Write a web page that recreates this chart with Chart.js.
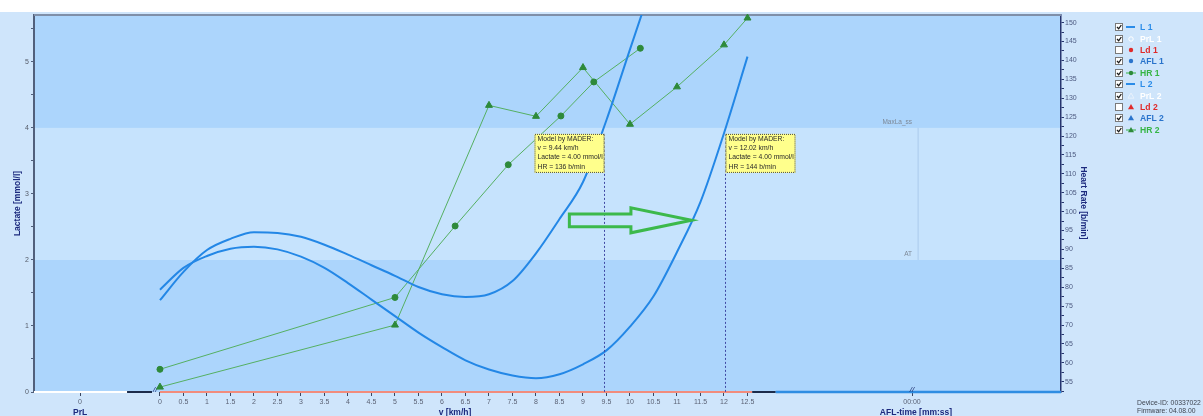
<!DOCTYPE html>
<html>
<head>
<meta charset="utf-8">
<title>Lactate test</title>
<script src="https://cdn.jsdelivr.net/npm/chart.js@4.4.1/dist/chart.umd.min.js"></script>
<style>
  html, body { margin: 0; padding: 0; background: #ffffff; overflow: hidden; }
  canvas { display: block; }
</style>
</head>
<body>
<canvas id="lactateChart" width="1203" height="416"></canvas>
<script>
var curveSpeed = [0, 0.5, 1, 1.5, 2, 2.5, 3, 3.5, 4, 4.5, 5, 5.5, 6, 6.5, 7, 7.5, 8, 8.5, 9, 9.5, 10, 10.5, 11, 11.5, 12, 12.5];
var lactate1 = [1.39, 1.82, 2.15, 2.32, 2.42, 2.41, 2.35, 2.23, 2.08, 1.92, 1.76, 1.59, 1.48, 1.44, 1.48, 1.68, 2.10, 2.62, 3.18, 4.12, 5.19, 6.25];
var lactate2 = [1.55, 1.88, 2.06, 2.17, 2.20, 2.16, 2.05, 1.88, 1.65, 1.40, 1.15, 0.90, 0.68, 0.48, 0.34, 0.25, 0.21, 0.27, 0.42, 0.63, 0.99, 1.45, 2.12, 2.88, 3.92, 5.08];

// heart rate steps
var hr1Speed = [0, 5, 6.28, 7.41, 8.53, 9.23, 10.22];
var hr1 = [58.3, 77.3, 96.2, 112.4, 125.3, 134.3, 143.2];
var hr2Speed = [0, 5, 7, 8, 9, 10, 11, 12, 12.5];
var hr2 = [53.6, 70.0, 128.1, 125.2, 138.1, 123.1, 133.0, 144.1, 151.2];

// MADER model results (4 mmol/l threshold)
var modelSpeed = [9.44, 12.02];
var modelLactate = [4.00, 4.00];
var modelHR = [136, 144];

// ticks
var speedTicks = [0, 0.5, 1, 1.5, 2, 2.5, 3, 3.5, 4, 4.5, 5, 5.5, 6, 6.5, 7, 7.5, 8, 8.5, 9, 9.5, 10, 10.5, 11, 11.5, 12, 12.5];
var lactateTicks = [0, 1, 2, 3, 4, 5];
var hrTicks = [55, 60, 65, 70, 75, 80, 85, 90, 95, 100, 105, 110, 115, 120, 125, 130, 135, 140, 145, 150];
var prlTick = -1.7;   // "0" under the PrL part
var aflTick = 16;     // "00:00" under the AFL-time part

var legendItems = [
  { label: 'L 1',   color: '#2b8ce8', mark: 'line',         checked: true },
  { label: 'PrL 1', color: '#ffffff', mark: 'ocircle',      checked: true },
  { label: 'Ld 1',  color: '#e02a2a', mark: 'circle',       checked: false },
  { label: 'AFL 1', color: '#2a74cc', mark: 'circle',       checked: true },
  { label: 'HR 1',  color: '#35b544', mark: 'lineCircle',   checked: true },
  { label: 'L 2',   color: '#2b8ce8', mark: 'line',         checked: true },
  { label: 'PrL 2', color: '#ffffff', mark: 'otriangle',    checked: true },
  { label: 'Ld 2',  color: '#e02a2a', mark: 'triangle',     checked: false },
  { label: 'AFL 2', color: '#2a74cc', mark: 'triangle',     checked: true },
  { label: 'HR 2',  color: '#35b544', mark: 'lineTriangle', checked: true }
];

var FONT = "Arial, 'Liberation Sans', sans-serif";
var NAVY = '#1c2a7e';

function pairs(xs, ys) {
  var out = [];
  for (var i = 0; i < ys.length; i++) out.push({ x: xs[i], y: ys[i] });
  return out;
}

// major ticks plus one minor tick half way between them
function withMinor(major, lo, hi) {
  var step = (major[1] - major[0]) / 2;
  var out = [];
  for (var i = 0; i < major.length; i++) {
    out.push(major[i] - step);
    out.push(major[i]);
  }
  out.push(major[major.length - 1] + step);
  return out.filter(function (v) { return v >= lo && v <= hi; }).map(function (v) { return { value: v }; });
}

var backdrop = {
  id: 'backdrop',
  beforeDraw: function (chart) {
    var c = chart.ctx, a = chart.chartArea, y = chart.scales.y;
    c.save();
    c.fillStyle = '#ffffff';
    c.fillRect(0, 0, chart.width, chart.height);
    c.fillStyle = '#cfe5fb';
    c.fillRect(0, 12, chart.width, chart.height - 12);
    // lactate bands
    var edges = [0, 2, 4, y.max];
    var cols = ['#acd5fc', '#c6e3fd', '#acd5fc'];
    for (var i = 0; i < 3; i++) {
      var t = y.getPixelForValue(edges[i + 1]), b = y.getPixelForValue(edges[i]);
      c.fillStyle = cols[i];
      c.fillRect(a.left, t, a.right - a.left, b - t);
    }
    c.restore();
  },
  beforeDatasetsDraw: function (chart) {
    var c = chart.ctx, a = chart.chartArea, x = chart.scales.x, y = chart.scales.y;
    c.save();
    // top frame
    c.strokeStyle = '#7f8fa8';
    c.lineWidth = 2;
    c.beginPath(); c.moveTo(a.left, a.top); c.lineTo(a.right, a.top); c.stroke();
    // faint separator and zone labels
    var sx = x.getPixelForValue(16.13);
    c.strokeStyle = 'rgba(150,185,225,0.6)';
    c.lineWidth = 1;
    c.beginPath(); c.moveTo(sx, y.getPixelForValue(4)); c.lineTo(sx, y.getPixelForValue(2)); c.stroke();
    c.fillStyle = '#7d8896';
    c.font = '6.5px ' + FONT;
    c.textAlign = 'right';
    c.textBaseline = 'bottom';
    c.fillText('MaxLa_ss', x.getPixelForValue(aflTick), y.getPixelForValue(4) - 2);
    c.fillText('AT', x.getPixelForValue(aflTick), y.getPixelForValue(2) - 2);
    // bottom axis segments
    var yb = a.bottom;
    function seg(x0, x1, col, w) {
      c.strokeStyle = col; c.lineWidth = w;
      c.beginPath(); c.moveTo(x0, yb); c.lineTo(x1, yb); c.stroke();
    }
    seg(a.left, x.getPixelForValue(-0.7), '#ffffff', 2);
    seg(x.getPixelForValue(-0.7), x.getPixelForValue(-0.17), '#1c2b4a', 2);
    seg(x.getPixelForValue(0), x.getPixelForValue(12.6), '#f28c7c', 2);
    seg(x.getPixelForValue(12.6), x.getPixelForValue(13.1), '#1c2b4a', 2);
    seg(x.getPixelForValue(13.1), a.right, '#2f8de2', 2.5);
    c.fillStyle = '#1c2b6a';
    c.font = 'italic 8px ' + FONT;
    c.textAlign = 'center';
    c.textBaseline = 'middle';
    c.fillText('//', x.getPixelForValue(-0.1), yb - 2);
    c.fillText('//', x.getPixelForValue(aflTick), yb - 2);
    c.restore();
  },
  afterDatasetsDraw: function (chart) {
    var c = chart.ctx, a = chart.chartArea, x = chart.scales.x, y = chart.scales.y;
    c.save();
    for (var i = 0; i < modelSpeed.length; i++) {
      var px = Math.round(x.getPixelForValue(modelSpeed[i])) + 0.5;
      var top = y.getPixelForValue(modelLactate[i]) + 6;
      c.strokeStyle = '#4049a4';
      c.lineWidth = 1;
      c.setLineDash([2, 2]);
      c.beginPath(); c.moveTo(px, top); c.lineTo(px, a.bottom); c.stroke();
      var w = 70, h = 39;
      var left = i === 0 ? px - w : px;
      c.setLineDash([]);
      c.fillStyle = '#ffff8c';
      c.fillRect(left, top, w, h);
      c.setLineDash([1, 1]);
      c.strokeStyle = '#4a4a4a';
      c.strokeRect(left + 0.5, top + 0.5, w - 1, h - 1);
      c.setLineDash([]);
      c.save();
      c.beginPath(); c.rect(left, top, w - 1, h); c.clip();
      c.fillStyle = '#2a2a2a';
      c.font = '6.8px ' + FONT;
      c.textAlign = 'left';
      c.textBaseline = 'middle';
      var lines = [
        'Model by MADER:',
        'v = ' + modelSpeed[i].toFixed(2) + ' km/h',
        'Lactate = ' + modelLactate[i].toFixed(2) + ' mmol/l',
        'HR = ' + modelHR[i] + ' b/min'
      ];
      for (var k = 0; k < lines.length; k++) c.fillText(lines[k], left + 3, top + 5.5 + k * 9.1);
      c.restore();
    }
    // green hint arrow
    var ax0 = x.getPixelForValue(8.71), ax1 = x.getPixelForValue(10.02), ax2 = x.getPixelForValue(11.31);
    var ay = y.getPixelForValue(2.6);
    c.strokeStyle = '#3cb94b';
    c.lineWidth = 3;
    c.lineJoin = 'miter';
    c.beginPath();
    c.moveTo(ax0, ay - 6.3); c.lineTo(ax1, ay - 6.3); c.lineTo(ax1, ay - 12.5);
    c.lineTo(ax2, ay); c.lineTo(ax1, ay + 12.5); c.lineTo(ax1, ay + 6.3);
    c.lineTo(ax0, ay + 6.3); c.closePath();
    c.stroke();
    c.restore();
  },
  afterDraw: function (chart) {
    var c = chart.ctx, a = chart.chartArea, x = chart.scales.x;
    c.save();
    // axis titles
    c.fillStyle = NAVY;
    c.font = 'bold 8.5px ' + FONT;
    c.textAlign = 'center';
    c.textBaseline = 'middle';
    c.fillText('PrL', x.getPixelForValue(prlTick), 413);
    c.fillText('v [km/h]', 455, 413);
    c.fillText('AFL-time [mm:ss]', 916, 413);
    c.save();
    c.translate(18, (a.top + a.bottom) / 2);
    c.rotate(-Math.PI / 2);
    c.fillText('Lactate [mmol/l]', 0, 0);
    c.restore();
    c.save();
    c.translate(1083, 203);
    c.rotate(Math.PI / 2);
    c.fillText('Heart Rate [b/min]', 0, 0);
    c.restore();
    // device info
    c.fillStyle = '#3e4450';
    c.font = '6.8px ' + FONT;
    c.textAlign = 'left';
    c.fillText('Device-ID: 00337022', 1137, 403);
    c.fillText('Firmware: 04.08.00', 1137, 411);
    // legend with check boxes
    for (var i = 0; i < legendItems.length; i++) {
      var it = legendItems[i];
      var cy = Math.round(27.3 + i * 11.38);
      c.fillStyle = '#ffffff';
      c.fillRect(1115.5, cy - 3.5, 7, 7);
      c.strokeStyle = '#7a7a7a';
      c.lineWidth = 1;
      c.strokeRect(1115.5, cy - 3.5, 7, 7);
      if (it.checked) {
        c.strokeStyle = '#1a1a1a';
        c.lineWidth = 1.3;
        c.beginPath(); c.moveTo(1117, cy); c.lineTo(1118.7, cy + 1.8); c.lineTo(1121.3, cy - 2); c.stroke();
      }
      drawMark(c, it.mark, 1131, cy, it.color);
      c.fillStyle = it.color;
      c.font = 'bold 8.6px ' + FONT;
      c.textAlign = 'left';
      c.textBaseline = 'middle';
      c.fillText(it.label, 1140, cy + 0.5);
    }
    c.restore();
  }
};

function drawMark(c, kind, cx, cy, color) {
  c.save();
  c.fillStyle = color;
  c.strokeStyle = color;
  c.lineWidth = 1;
  if (kind === 'line') {
    c.lineWidth = 2;
    c.beginPath(); c.moveTo(cx - 5, cy); c.lineTo(cx + 4, cy); c.stroke();
  }
  if (kind === 'lineCircle' || kind === 'lineTriangle') {
    c.beginPath(); c.moveTo(cx - 5, cy); c.lineTo(cx + 5, cy); c.stroke();
    c.fillStyle = '#2e8a3a';
  }
  if (kind === 'circle' || kind === 'lineCircle') {
    c.beginPath(); c.arc(cx, cy, 2.2, 0, Math.PI * 2); c.fill();
  }
  if (kind === 'ocircle') {
    c.beginPath(); c.arc(cx, cy, 2.2, 0, Math.PI * 2); c.stroke();
  }
  if (kind === 'triangle' || kind === 'lineTriangle' || kind === 'otriangle') {
    c.beginPath(); c.moveTo(cx, cy - 3); c.lineTo(cx + 3, cy + 2.2); c.lineTo(cx - 3, cy + 2.2); c.closePath();
    if (kind === 'otriangle') { c.strokeStyle = '#e8f1fb'; c.stroke(); } else c.fill();
  }
  c.restore();
}

var ctx = document.getElementById('lactateChart').getContext('2d');
var lactateChart = new Chart(ctx, {
  type: 'line',
  data: {
    datasets: [{
      label: 'L 1',
      data: pairs(curveSpeed, lactate1),
      yAxisID: 'y',
      borderColor: '#2387e6',
      borderWidth: 2,
      pointRadius: 0,
      cubicInterpolationMode: 'monotone'
    }, {
      label: 'L 2',
      data: pairs(curveSpeed, lactate2),
      yAxisID: 'y',
      borderColor: '#2387e6',
      borderWidth: 2,
      pointRadius: 0,
      cubicInterpolationMode: 'monotone'
    }, {
      label: 'HR 1',
      data: pairs(hr1Speed, hr1),
      yAxisID: 'yHR',
      borderColor: '#55b062',
      borderWidth: 1,
      pointStyle: 'circle',
      pointRadius: 3,
      pointBackgroundColor: '#2e8a3a',
      pointBorderColor: '#2e8a3a',
      tension: 0,
      clip: 6
    }, {
      label: 'HR 2',
      data: pairs(hr2Speed, hr2),
      yAxisID: 'yHR',
      borderColor: '#55b062',
      borderWidth: 1,
      pointStyle: 'triangle',
      pointRadius: 4,
      pointBackgroundColor: '#2e8a3a',
      pointBorderColor: '#2e8a3a',
      tension: 0,
      clip: 6
    }]
  },
  options: {
    responsive: false,
    animation: false,
    events: [],
    layout: { padding: { top: 15, left: 0, right: 0, bottom: 0 } },
    plugins: {
      legend: { display: false },
      tooltip: { enabled: false }
    },
    scales: {
      x: {
        type: 'linear',
        bounds: 'data',
        min: -2.68,
        max: 19.17,
        afterFit: function (s) { s.height = 24; },
        afterBuildTicks: function (s) {
          s.ticks = [prlTick].concat(speedTicks, [aflTick]).map(function (v) { return { value: v }; });
        },
        border: { display: false },
        grid: { drawOnChartArea: false, tickLength: 4, color: '#3a4660' },
        ticks: {
          autoSkip: false,
          maxRotation: 0,
          padding: 2,
          color: '#5b6275',
          font: { size: 7, family: FONT },
          callback: function (v) {
            if (v === prlTick) return '0';
            if (v === aflTick) return '00:00';
            return String(v);
          }
        }
      },
      y: {
        type: 'linear',
        position: 'left',
        bounds: 'data',
        min: 0,
        max: 5.71,
        afterFit: function (s) { s.width = 34; },
        afterBuildTicks: function (s) { s.ticks = withMinor(lactateTicks, 0, 5.71); },
        border: { display: true, color: '#51607c', width: 2 },
        grid: { drawOnChartArea: false, tickLength: 3, color: '#51607c' },
        ticks: {
          autoSkip: false,
          padding: 2,
          color: '#555b68',
          font: { size: 7, family: FONT },
          callback: function (v) { return lactateTicks.indexOf(v) >= 0 ? String(v) : ''; }
        }
      },
      yHR: {
        type: 'linear',
        position: 'right',
        bounds: 'data',
        min: 52.3,
        max: 152,
        afterFit: function (s) { s.width = 142; },
        afterBuildTicks: function (s) { s.ticks = withMinor(hrTicks, 52.3, 152); },
        border: { display: true, color: '#27356e', width: 1.5 },
        grid: { drawOnChartArea: false, tickLength: 3, color: '#27356e' },
        ticks: {
          autoSkip: false,
          padding: 1,
          color: '#4d5a80',
          font: { size: 7, family: FONT },
          callback: function (v) { return hrTicks.indexOf(v) >= 0 ? String(v) : ''; }
        }
      }
    }
  },
  plugins: [backdrop]
});
</script>
</body>
</html>
